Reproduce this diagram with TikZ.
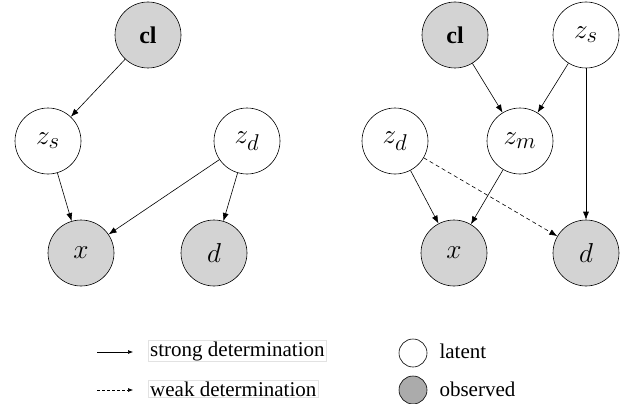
\documentclass[tikz,border=0pt]{standalone}
\usepackage{amsmath}
\usepackage{graphicx}
\usepackage{fontspec}
\setmainfont{Liberation Serif}
\usetikzlibrary{arrows.meta}
\definecolor{Obs}{HTML}{D3D3D3}
\definecolor{ObsKey}{HTML}{ABABAB}
\definecolor{KeyLine}{HTML}{E2E2E2}
\newcommand{\varlbl}[1]{\scalebox{1.1}{$#1$}}

\begin{document}
\begin{tikzpicture}[x=1pt, y=-1pt, >=Latex,
    latent/.style={circle, draw, line width=0.6pt, fill=white, minimum size=66pt, inner sep=0pt, font=\fontsize{24.88}{30}\selectfont},
    observed/.style={latent, fill=Obs},
    link/.style={line width=0.6pt, -{Latex[length=8pt, width=6pt]}},
    weak/.style={link, dash pattern=on 4pt off 3pt},
    keytext/.style={draw=KeyLine, anchor=west, inner xsep=2pt, inner ysep=1pt, font=\fontsize{21}{25}\selectfont}]
    \useasboundingbox (0,0) rectangle (632,404);
    % left model
    \node[observed] (cl1) at (148,35) {\fontsize{24}{28}\selectfont\textbf{cl}};
    \node[latent] (zs1) at (48,141) {\varlbl{z_s}};
    \node[latent] (zd1) at (247,141) {\varlbl{z_d}};
    \node[observed] (x1) at (81,253) {\varlbl{x}};
    \node[observed] (d1) at (214,253) {\varlbl{d}};
    \draw[link] (cl1) -- (zs1);
    \draw[link] (zs1) -- (x1);
    \draw[link] (zd1) -- (x1);
    \draw[link] (zd1) -- (d1);
    % right model
    \node[observed] (cl2) at (455,35) {\fontsize{24}{28}\selectfont\textbf{cl}};
    \node[latent] (zs2) at (586,35) {\varlbl{z_s}};
    \node[latent] (zd2) at (395,141) {\varlbl{z_d}};
    \node[latent] (zm2) at (520,141) {\varlbl{z_m}};
    \node[observed] (x2) at (454,253) {\varlbl{x}};
    \node[observed] (d2) at (586,253) {\varlbl{d}};
    \draw[link] (cl2) -- (zm2);
    \draw[link] (zs2) -- (zm2);
    \draw[link] (zs2) -- (d2);
    \draw[link] (zd2) -- (x2);
    \draw[link] (zm2) -- (x2);
    \draw[weak] (zd2) -- (d2);
    % key
    \coordinate (s0) at (97,352);
    \coordinate (s1) at (133,352);
    \coordinate (w0) at (97,390);
    \coordinate (w1) at (133,390);
    \draw[line width=0.6pt, -{Latex[length=5pt, width=4pt]}] (s0) -- (s1);
    \draw[line width=0.6pt, densely dashed, -{Latex[length=5pt, width=4pt]}] (w0) -- (w1);
    \node[keytext] (strong) at (148,351) {strong determination};
    \node[keytext] (weaktxt) at (148,389) {weak determination};
    \node[circle, draw, line width=0.6pt, fill=white, minimum size=28pt, inner sep=0pt] (keylat) at (413,353) {};
    \node[circle, draw, line width=0.6pt, fill=ObsKey, minimum size=28pt, inner sep=0pt] (keyobs) at (413,390) {};
    \node[anchor=west, font=\fontsize{21}{25}\selectfont] (latlbl) at (436,351) {latent};
    \node[anchor=west, font=\fontsize{21}{25}\selectfont] (obslbl) at (436,389) {observed};
\end{tikzpicture}
\end{document}
